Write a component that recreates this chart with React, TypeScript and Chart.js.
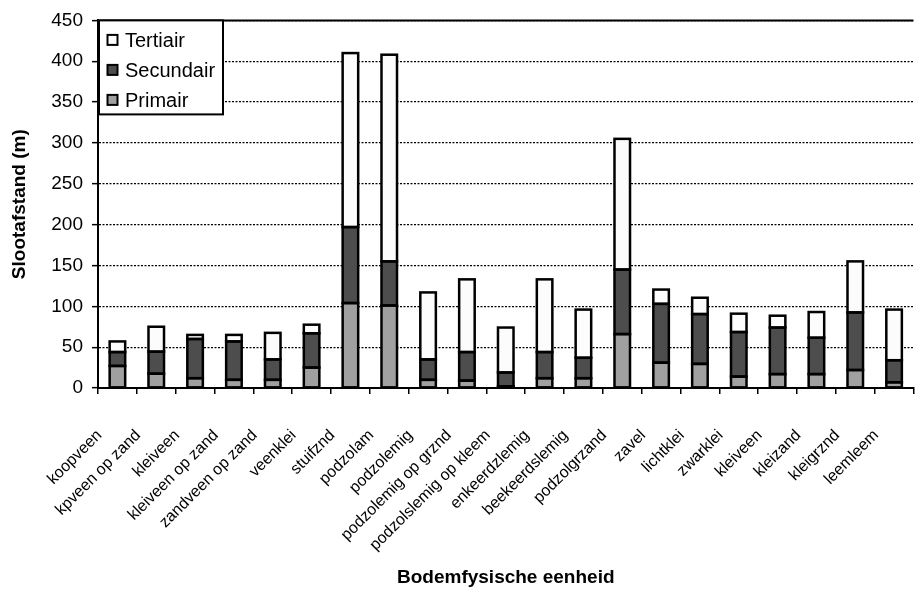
import React, { useEffect, useRef } from "react";
import { Chart, registerables } from "chart.js";

Chart.register(...registerables);

const categories = [
  "koopveen", "kpveen op zand", "kleiveen", "kleiveen op zand", "zandveen op zand",
  "veenklei", "stuifznd", "podzolam", "podzolemig", "podzolemig op grznd",
  "podzolslemig op kleem", "enkeerdzlemig", "beekeerdslemig", "podzolgrzand", "zavel",
  "lichtklei", "zwarklei", "kleiveen", "kleizand", "kleigrznd", "leemleem",
];
const primair = [27, 17.5, 12, 10, 10, 25, 104, 101, 10, 9, 2, 12, 12, 66, 31, 29.5, 14, 17, 17, 22, 7];
const secundair = [17, 27, 48, 47, 25, 42, 93, 54, 25, 35, 17, 32, 25, 79, 72, 61, 54.5, 57, 44.5, 70.5, 27];
const tertiair = [13, 30.5, 5, 8, 32.5, 10.5, 213, 253, 82, 89, 55, 89, 59, 160, 17.5, 20, 22.5, 14.5, 31.5, 62.5, 62];
const yTicks = [0, 50, 100, 150, 200, 250, 300, 350, 400, 450];

const FONT = "'Liberation Sans', Arial, sans-serif";
const COL_T = "#fcfcfc";
const COL_S = "#4d4d4d";
const COL_P = "#a0a0a0";

const legendItems = [
  { label: "Tertiair", color: COL_T },
  { label: "Secundair", color: COL_S },
  { label: "Primair", color: COL_P },
];

// Strokes a crisp outline around every bar segment (Excel style)
const outlinePlugin = {
  id: "outline",
  afterDatasetsDraw(chart: any) {
    const { ctx } = chart;
    ctx.save();
    ctx.strokeStyle = "#000";
    ctx.lineWidth = 2.5;
    ctx.lineJoin = "miter";
    chart.data.datasets.forEach((_d: any, di: number) => {
      const meta = chart.getDatasetMeta(di);
      meta.data.forEach((bar: any) => {
        const { x, y, base, width } = bar.getProps(["x", "y", "base", "width"], true);
        const left = x - width / 2;
        const top = Math.min(y, base);
        const h = Math.abs(base - y);
        ctx.strokeRect(left, top, width, h);
      });
    });
    ctx.restore();
  },
};

const overlayPlugin = {
  id: "overlay",
  afterDraw(chart: any) {
    const { ctx, chartArea } = chart;
    ctx.save();
    ctx.strokeStyle = "#000";
    ctx.lineWidth = 2;
    ctx.beginPath();
    ctx.moveTo(chartArea.left, chartArea.top);
    ctx.lineTo(chartArea.right, chartArea.top);
    ctx.stroke();
    const lx = chartArea.left + 1;
    const ly = chartArea.top;
    const lw = 124;
    const lh = 94;
    ctx.fillStyle = "#fff";
    ctx.fillRect(lx, ly, lw, lh);
    ctx.lineWidth = 2;
    ctx.strokeRect(lx, ly, lw, lh);
    ctx.font = `20px ${FONT}`;
    ctx.textBaseline = "middle";
    ctx.textAlign = "left";
    legendItems.forEach((it, i) => {
      const cy = ly + 20 + i * 30;
      ctx.fillStyle = it.color;
      ctx.fillRect(lx + 8.5, cy - 5.5, 10, 10);
      ctx.lineWidth = 2;
      ctx.strokeStyle = "#000";
      ctx.strokeRect(lx + 8.5, cy - 5.5, 10, 10);
      ctx.fillStyle = "#000";
      ctx.fillText(it.label, lx + 26, cy + 1);
    });
    ctx.restore();
  },
};

export default function App() {
  const ref = useRef<HTMLCanvasElement>(null);
  useEffect(() => {
    if (!ref.current) return;
    const chart = new Chart(ref.current, {
      type: "bar",
      data: {
        labels: categories,
        datasets: [
          { label: "Primair", data: primair, backgroundColor: COL_P, borderWidth: 0 },
          { label: "Secundair", data: secundair, backgroundColor: COL_S, borderWidth: 0 },
          { label: "Tertiair", data: tertiair, backgroundColor: COL_T, borderWidth: 0 },
        ],
      },
      options: {
        responsive: false,
        animation: false,
        layout: { padding: { left: 0, top: 17, right: 14, bottom: 0 } },
        datasets: { bar: { barPercentage: 0.4, categoryPercentage: 1 } } as any,
        plugins: { legend: { display: false }, tooltip: { enabled: false } },
        scales: {
          x: {
            stacked: true,
            afterFit: (s: any) => { s.height = 202; },
            grid: {
              display: true,
              drawOnChartArea: false,
              offset: true,
              tickLength: 6,
              color: "#000",
              lineWidth: 1.5,
            },
            border: { display: true, color: "#000", width: 2 },
            ticks: {
              autoSkip: false,
              maxRotation: 45,
              minRotation: 45,
              padding: 32,
              labelOffset: -18,
              color: "#000",
              font: { family: FONT, size: 16 },
            },
            title: {
              display: true,
              text: "Bodemfysische eenheid",
              color: "#000",
              font: { family: FONT, size: 19, weight: "bold" },
              padding: { top: 0, bottom: 1 },
            },
          },
          y: {
            stacked: true,
            min: 0,
            max: 450,
            afterFit: (s: any) => { s.width = 98; },
            afterBuildTicks: (s: any) => { s.ticks = yTicks.map((v) => ({ value: v })); },
            grid: {
              color: "#000",
              lineWidth: 1.3,
              tickLength: 6,
              tickColor: "#000",
              tickWidth: 1.5,
              tickBorderDash: [],
            } as any,
            border: { display: true, color: "#000", width: 2, dash: [2, 1.5] } as any,
            ticks: {
              padding: 9,
              color: "#000",
              font: { family: FONT, size: 19 },
            },
            title: {
              display: true,
              text: "Slootafstand (m)",
              color: "#000",
              font: { family: FONT, size: 19, weight: "bold" },
              padding: { top: 8.5, bottom: 0 },
            },
          },
        },
      },
      plugins: [outlinePlugin, overlayPlugin],
    });
    return () => chart.destroy();
  }, []);
  return (
    <div style={{ position: "absolute", left: 0, top: 0, width: 917, height: 590, overflow: "hidden", background: "#fff" }}>
      <canvas ref={ref} width={940} height={590} style={{ width: 940, height: 590, display: "block" }} />
    </div>
  );
}
